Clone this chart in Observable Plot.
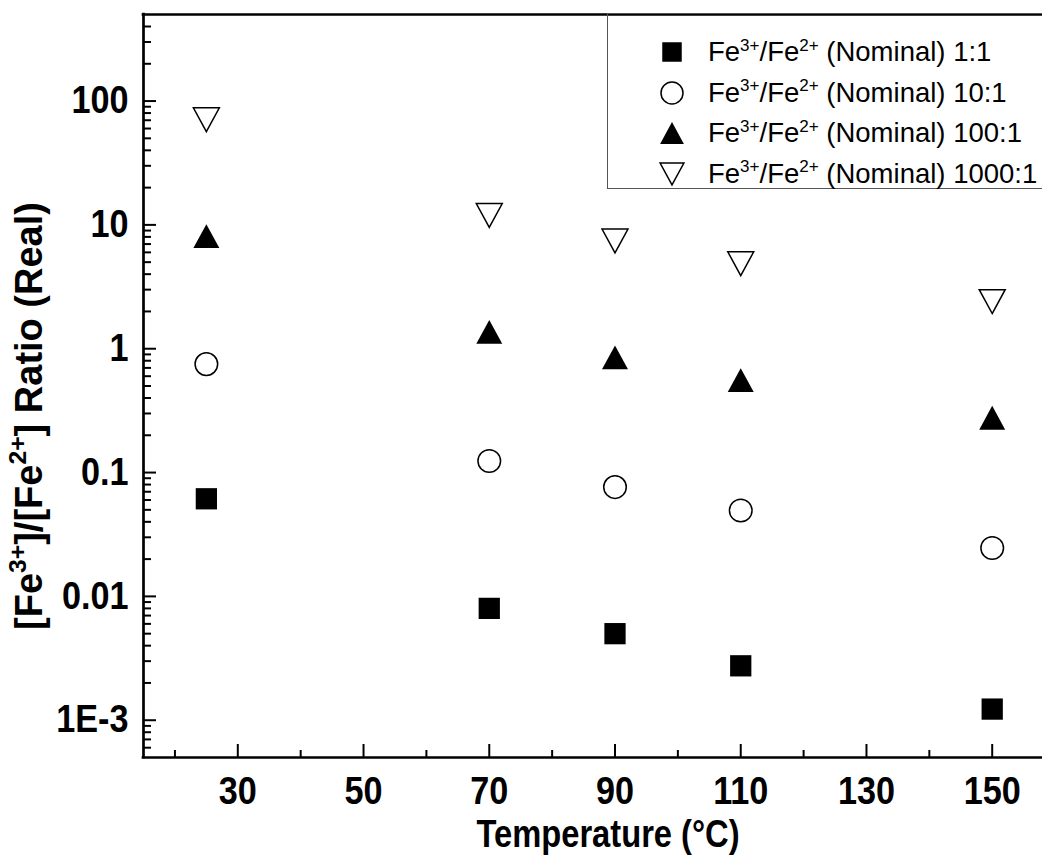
<!DOCTYPE html>
<html>
<head>
<meta charset="utf-8">
<script src="https://cdn.jsdelivr.net/npm/d3@7"></script>
<script src="https://cdn.jsdelivr.net/npm/@observablehq/plot@0.6"></script>
<style>
  html, body { margin: 0; padding: 0; background: #fff; overflow: hidden; }
  #wrap { position: relative; width: 1042px; height: 856px; overflow: hidden; }
  .legend {
    position: absolute; left: 607px; top: 13px; width: 470px; height: 176px;
    border: 1.5px solid #555; box-sizing: border-box;
    font-family: "Liberation Sans", Arial, sans-serif; font-size: 27.5px; color: #000;
  }
  .legend .row { position: absolute; left: 0; height: 40px; display: flex; align-items: center; white-space: nowrap; }
  .legend svg { width: 40px; height: 40px; margin-left: 44px; margin-right: 16px; overflow: visible; }
  .legend sup { font-size: 0.62em; vertical-align: 0; position: relative; top: -0.6em; }
</style>
</head>
<body>
<div id="wrap"></div>
<script>
// Measured Fe3+/Fe2+ ratios at each synthesis temperature, one array per nominal ratio
const temperatures = [25, 70, 90, 110, 150];
const ratioNominal1 = [0.0614, 0.0080, 0.0050, 0.00275, 0.00123];
const ratioNominal10 = [0.751, 0.124, 0.0763, 0.0494, 0.0246];
const ratioNominal100 = [8.12, 1.37, 0.851, 0.558, 0.277];
const ratioNominal1000 = [70.7, 11.9, 7.42, 4.86, 2.40];
const seriesNames = ["1:1", "10:1", "100:1", "1000:1"];

// Axis ticks and labels
const xDomain = [15, 158];
const yDomain = [5e-4, 500];
const xTicks = [30, 50, 70, 90, 110, 130, 150];
const xMinorTicks = [20, 40, 60, 80, 100, 120, 140];
const yTicks = [1e-3, 1e-2, 0.1, 1, 10, 100];
const yTickLabels = ["1E-3", "0.01", "0.1", "1", "10", "100"];
const yMinorTicks = [6e-4, 7e-4, 8e-4, 9e-4]
  .concat(...[1e-3, 1e-2, 0.1, 1, 10].map(p => [2, 3, 4, 5, 6, 7, 8, 9].map(m => +(m * p).toPrecision(3))))
  .concat([200, 300, 400]);
const xTitle = "Temperature (°C)";
const yTitle = "[Fe3+]/[Fe2+] Ratio (Real)";

// Triangles centred on their bounding box
const triangleUp = {
  draw(ctx, size) {
    const s = Math.sqrt(size), hw = s * 0.61, hh = s * 0.56;
    ctx.moveTo(0, -hh); ctx.lineTo(hw, hh); ctx.lineTo(-hw, hh); ctx.closePath();
  }
};
const triangleDown = {
  draw(ctx, size) {
    const s = Math.sqrt(size), hw = s * 0.61, hh = s * 0.56;
    ctx.moveTo(0, hh); ctx.lineTo(hw, -hh); ctx.lineTo(-hw, -hh); ctx.closePath();
  }
};

const seriesStyle = {
  "1:1":    {symbol: d3.symbolSquare, plotSymbol: "square", fill: "#000", stroke: "none", r: 12},
  "10:1":   {symbol: d3.symbolCircle, plotSymbol: "circle", fill: "#fff", stroke: "#000", r: 11.3},
  "100:1":  {symbol: triangleUp, plotSymbol: triangleUp, fill: "#000", stroke: "none", r: 12},
  "1000:1": {symbol: triangleDown, plotSymbol: triangleDown, fill: "#fff", stroke: "#000", r: 12}
};

const seriesValues = [ratioNominal1, ratioNominal10, ratioNominal100, ratioNominal1000];
const rows = [];
seriesNames.forEach((name, s) =>
  temperatures.forEach((t, i) => rows.push({series: name, temperature: t, ratio: seriesValues[s][i]}))
);

const font = "'Liberation Sans', Arial, Helvetica, sans-serif";
const labelSize = 38;

const chart = Plot.plot({
  width: 1042,
  height: 856,
  marginLeft: 143,
  marginRight: 0,
  marginTop: 14,
  marginBottom: 99,
  style: {fontFamily: font, background: "#fff", color: "#000", overflow: "visible"},
  x: {domain: xDomain, label: null},
  y: {type: "log", domain: yDomain, label: null},
  marks: [
    // inward-pointing ticks
    Plot.axisY(yMinorTicks, {anchor: "left", tickSize: -8, tickFormat: () => "", strokeWidth: 2, label: null}),
    Plot.axisY(yTicks, {anchor: "left", tickSize: -13, tickFormat: () => "", strokeWidth: 2, label: null}),
    Plot.axisX(xMinorTicks, {anchor: "bottom", tickSize: -7, tickFormat: () => "", strokeWidth: 2, label: null}),
    Plot.axisX(xTicks, {anchor: "bottom", tickSize: -13, tickFormat: () => "", strokeWidth: 2, label: null}),
    // tick labels
    Plot.axisY(yTicks, {
      anchor: "left", tickSize: 0, tickPadding: 15, label: null,
      tickFormat: d => yTickLabels[yTicks.indexOf(d)],
      fontSize: labelSize, fontWeight: "bold"
    }),
    Plot.axisX(xTicks, {
      anchor: "bottom", tickSize: 0, tickPadding: 20, label: null,
      tickFormat: d => String(d),
      fontSize: labelSize, fontWeight: "bold"
    }),
    // axis lines
    Plot.ruleX([xDomain[0]], {strokeWidth: 2.7, strokeLinecap: "square"}),
    Plot.ruleY([yDomain[0]], {strokeWidth: 2.7, strokeLinecap: "square"}),
    Plot.ruleY([yDomain[1]], {strokeWidth: 2.7, strokeLinecap: "square"}),
    // data
    ...seriesNames.map(name => {
      const st = seriesStyle[name];
      return Plot.dot(rows.filter(d => d.series === name), {
        x: "temperature", y: "ratio",
        symbol: st.plotSymbol, r: st.r,
        fill: st.fill, stroke: st.stroke, strokeWidth: 1.5
      });
    }),
    // axis titles
    Plot.text([xTitle], {
      frameAnchor: "bottom", textAnchor: "middle", lineAnchor: "bottom",
      dx: 15, dy: 89, fontSize: labelSize, fontWeight: "bold"
    }),
    Plot.text([yTitle], {
      frameAnchor: "left", textAnchor: "middle", lineAnchor: "middle", rotate: -90,
      dx: -114, dy: 30, fontSize: labelSize, fontWeight: "bold"
    })
  ]
});

// superscript charges in the y title
d3.select(chart).selectAll("text").each(function () {
  if (this.textContent !== yTitle) return;
  const sel = d3.select(this);
  sel.text(null);
  let raised = false;
  yTitle.split(/(\d\+)/).forEach((part, i) => {
    if (!part) return;
    const ts = sel.append("tspan").text(part);
    if (i % 2) { ts.attr("font-size", "0.65em").attr("dy", "-16px"); raised = true; }
    else if (raised) { ts.attr("dy", "16px"); raised = false; }
  });
});

const wrap = document.getElementById("wrap");
wrap.appendChild(chart);

// the bold axis lettering is set slightly condensed
const condense = (node, k) => {
  const len = node.getComputedTextLength();
  if (len > 0) d3.select(node).attr("textLength", len * k).attr("lengthAdjust", "spacingAndGlyphs");
};
d3.select(chart).selectAll("g[aria-label='x-axis tick label'] text, g[aria-label='y-axis tick label'] text")
  .each(function () { condense(this, 0.9); });
d3.select(chart).selectAll("text").each(function () {
  if (this.textContent === xTitle) condense(this, 0.86);
});

// legend
const legend = d3.select(wrap).append("div").attr("class", "legend");
seriesNames.forEach((name, i) => {
  const st = seriesStyle[name];
  const row = legend.append("div").attr("class", "row").style("top", (18 + 40.5 * i) + "px");
  const svg = row.append("svg").attr("viewBox", "-20 -20 40 40");
  svg.append("path")
    .attr("d", d3.symbol(st.symbol, Math.PI * 11 * 11)())
    .attr("fill", st.fill).attr("stroke", st.stroke).attr("stroke-width", 1.5);
  row.append("span").html(`Fe<sup>3+</sup>/Fe<sup>2+</sup> (Nominal) ${name}`);
});
</script>
</body>
</html>
